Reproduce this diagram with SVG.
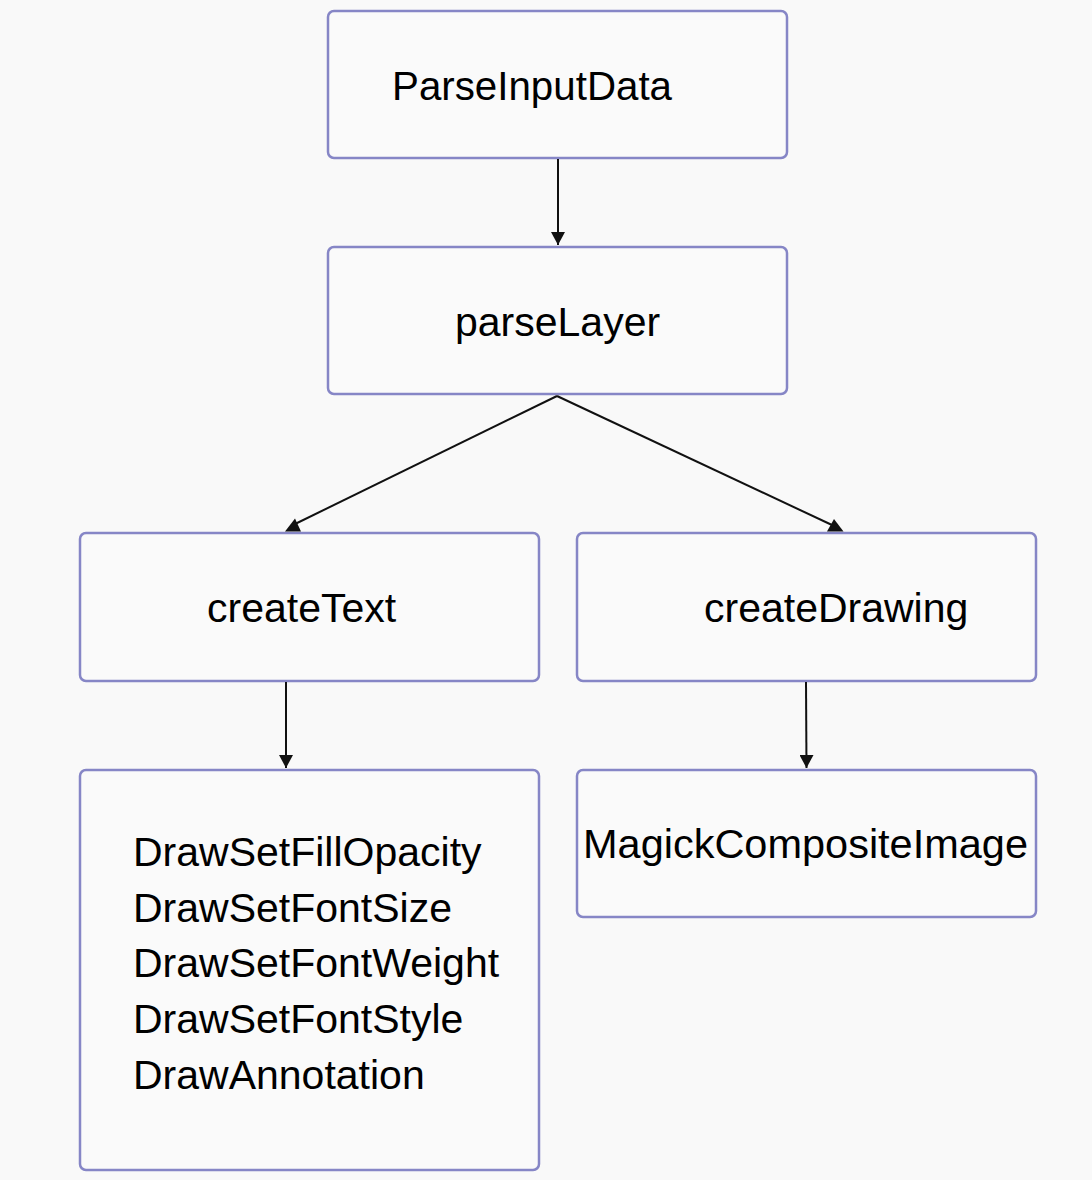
<svg xmlns="http://www.w3.org/2000/svg" width="1092" height="1180" viewBox="0 0 1092 1180">
  <defs>
    <style>
      .box { fill: #fafafa; stroke: #8686c6; stroke-width: 2.5; }
      .lbl { font-family: "Liberation Sans", Arial, Helvetica, sans-serif; font-size: 41px; fill: #000; }
      .edge { stroke: #111; stroke-width: 2; fill: none; }
      .head { fill: #111; stroke: none; }
    </style>
    <marker id="arr" viewBox="0 0 14 13" refX="7" refY="13" markerWidth="14" markerHeight="13" markerUnits="userSpaceOnUse" orient="0">
      <path d="M0,0 L14,0 L7,13 Z" class="head"/>
    </marker>
  </defs>
  <rect width="1092" height="1180" fill="#f9f9f9"/>

  <g id="node-parseInputData">
    <rect class="box" x="328" y="11" width="459" height="147" rx="6"/>
    <text class="lbl" x="392" y="100" textLength="280" lengthAdjust="spacingAndGlyphs">ParseInputData</text>
  </g>
  <g id="node-parseLayer">
    <rect class="box" x="328" y="247" width="459" height="147" rx="6"/>
    <text class="lbl" x="455" y="336">parseLayer</text>
  </g>
  <g id="node-createText">
    <rect class="box" x="80" y="533" width="459" height="148" rx="6"/>
    <text class="lbl" x="207" y="622">createText</text>
  </g>
  <g id="node-createDrawing">
    <rect class="box" x="577" y="533" width="459" height="148" rx="6"/>
    <text class="lbl" x="704" y="622">createDrawing</text>
  </g>
  <g id="node-drawFunctions">
    <rect class="box" x="80" y="770" width="459" height="400" rx="6"/>
    <text class="lbl" x="133" y="866">DrawSetFillOpacity</text>
    <text class="lbl" x="133" y="922">DrawSetFontSize</text>
    <text class="lbl" x="133" y="977">DrawSetFontWeight</text>
    <text class="lbl" x="133" y="1033">DrawSetFontStyle</text>
    <text class="lbl" x="133" y="1089">DrawAnnotation</text>
  </g>
  <g id="node-magickCompositeImage">
    <rect class="box" x="577" y="770" width="459" height="147" rx="6"/>
    <text class="lbl" x="583" y="858" textLength="445" lengthAdjust="spacingAndGlyphs">MagickCompositeImage</text>
  </g>

  <g id="connectors">
    <line class="edge" x1="558" y1="159" x2="558" y2="245" marker-end="url(#arr)"/>
    <line class="edge" x1="557" y1="396" x2="293" y2="525"/>
    <polygon class="head" points="295,518.5 285,531.5 301,531.5"/>
    <line class="edge" x1="557" y1="396" x2="832" y2="525"/>
    <polygon class="head" points="834,519 827,531.5 843.5,531.5"/>
    <line class="edge" x1="286" y1="682" x2="286" y2="768" marker-end="url(#arr)"/>
    <line class="edge" x1="806" y1="682" x2="806.5" y2="768" marker-end="url(#arr)"/>
  </g>
</svg>
